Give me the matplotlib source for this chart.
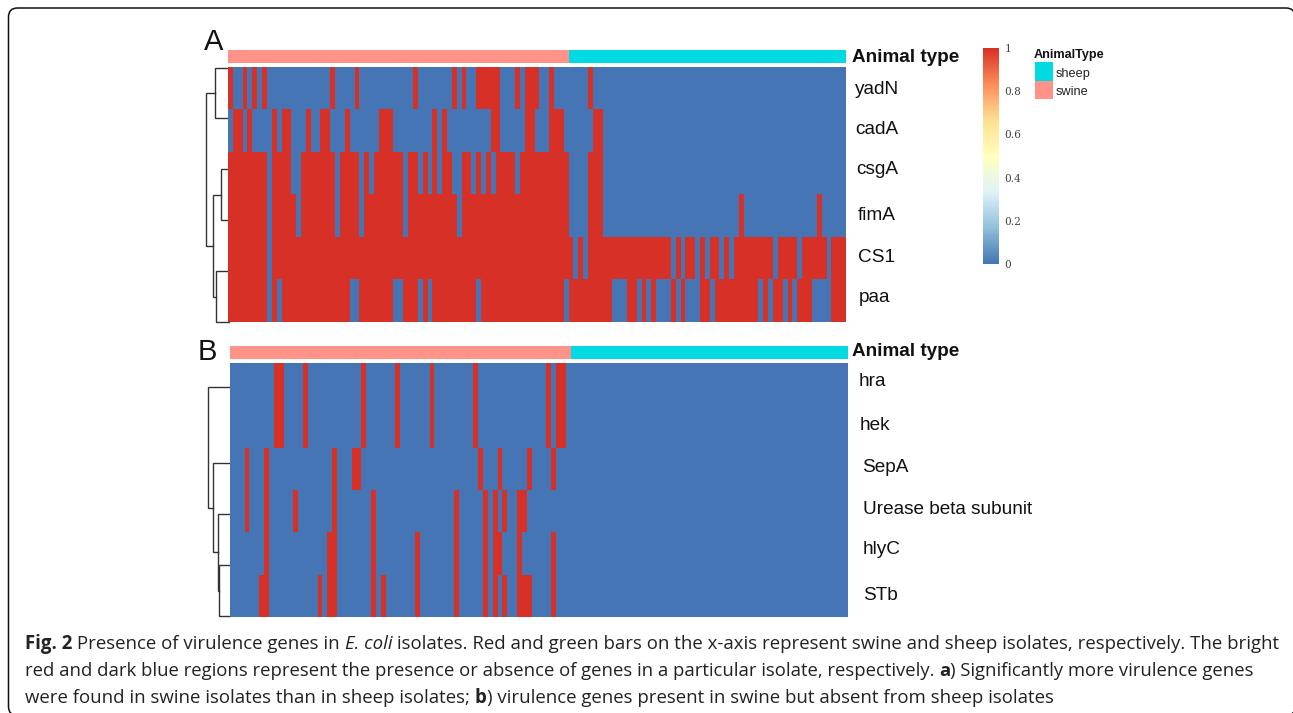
import numpy as np
import matplotlib
matplotlib.use("Agg")
import matplotlib.pyplot as plt
from matplotlib.cm import ScalarMappable
from matplotlib.colors import LinearSegmentedColormap, ListedColormap, Normalize
from matplotlib.patches import FancyBboxPatch, Rectangle

W, H = 1293, 713
N_SWINE = 70
N_SHEEP = 57

genes_a = ["yadN", "cadA", "csgA", "fimA", "CS1", "paa"]
genes_b = ["hra", "hek", "SepA", "Urease beta subunit", "hlyC", "STb"]

# isolates (column number) where the gene is present
yadN_present = [0, 3, 5, 7, 21, 26, 38, 46, 48, 51, 52, 53, 54, 55, 59, 61, 62, 63, 66, 74]
cadA_present = [1, 2, 4, 9, 11, 12, 16, 19, 20, 24, 31, 32, 33, 42, 44, 54, 55, 61, 62,
                66, 67, 68, 75, 76]
# these are mostly present, so list where they are absent
csgA_absent = [8, 13, 14, 22, 27, 29, 36, 39, 41, 43, 46, 47, 50, 52, 54, 59, 70, 71, 72, 73]
csgA_extra_absent_from = 77
fimA_absent = [8, 14, 22, 27, 36, 47, 70, 71, 72, 73]
fimA_extra_absent_from = 77
fimA_present_late = [105, 121]
CS1_absent = [8, 71, 73, 91, 93, 96, 98, 101, 103, 112, 117, 123]
paa_absent = [8, 10, 25, 26, 34, 35, 39, 41, 51, 69, 79, 80, 81, 84, 86, 88, 89, 90, 92,
              94, 95, 96, 99, 109, 111, 114, 116, 120, 121, 122, 123]

hra_present = [9, 10, 15, 27, 34, 41, 50, 65, 67, 68]
hek_present = [9, 10, 15, 27, 34, 41, 50, 65, 67, 68]
SepA_present = [3, 7, 21, 25, 26, 51, 55, 61, 66]
Urease_present = [3, 7, 13, 21, 29, 46, 52, 54, 56, 59, 60]
hlyC_present = [7, 20, 21, 29, 38, 46, 52, 54, 55, 59, 66]
STb_present = [6, 7, 18, 20, 21, 29, 31, 38, 46, 52, 54, 56, 59, 60, 61, 66]

heat_colors = ["#4575B4", "#91BFDB", "#E0F3F8", "#FFFFBF", "#FEE090", "#FC8D59", "#D73027"]
swine_color = "#FF9289"
sheep_color = "#00DAE0"
cbar_ticks = [0, 0.2, 0.4, 0.6, 0.8, 1]
cbar_labels = ["0", "0.2", "0.4", "0.6", "0.8", "1"]

# dendrogram links: y of top child, y of bottom child, x of the join, x of each child end
links_a = [(67.7, 118.3, 214.7, 228.3, 228.3),
           (169.3, 220.3, 221.3, 228.3, 228.3),
           (271.3, 322.0, 215.7, 229.3, 229.3),
           (194.7, 296.7, 212.7, 221.3, 215.7),
           (92.7, 245.7, 205.7, 214.7, 212.7)]
links_b = [(564.7, 615.7, 219.3, 230.3, 230.3),
           (514.0, 590.7, 217.7, 230.3, 219.3),
           (463.0, 552.3, 212.7, 230.3, 217.7),
           (387.0, 507.7, 207.7, 230.3, 212.7)]

plt.rcParams["font.family"] = ["Liberation Sans", "DejaVu Sans"]


def present(cols):
    row = np.zeros(N_SWINE + N_SHEEP)
    row[cols] = 1
    return row


def absent(cols, absent_from=None):
    row = np.ones(N_SWINE + N_SHEEP)
    row[cols] = 0
    if absent_from is not None:
        row[absent_from:] = 0
    return row


fimA_row = absent(fimA_absent, fimA_extra_absent_from)
fimA_row[fimA_present_late] = 1
matrix_a = np.array([present(yadN_present), present(cadA_present),
                     absent(csgA_absent, csgA_extra_absent_from), fimA_row,
                     absent(CS1_absent), absent(paa_absent)])
matrix_b = np.array([present(hra_present), present(hek_present), present(SepA_present),
                     present(Urease_present), present(hlyC_present), present(STb_present)])
animal_type = np.array([0] * N_SWINE + [1] * N_SHEEP).reshape(1, -1)

heat_cmap = LinearSegmentedColormap.from_list("heat", heat_colors, N=256)
anno_cmap = ListedColormap([swine_color, sheep_color])

fig = plt.figure(figsize=(W / 100, H / 100), dpi=100, facecolor="white")


def pixel_axes(x0, y0, x1, y1):
    # rectangle given in image pixels, y going down
    ax = fig.add_axes([x0 / W, 1 - y1 / H, (x1 - x0) / W, (y1 - y0) / H])
    ax.set_axis_off()
    return ax


# full figure overlay for frame, dendrograms and text, in image pixels
page = pixel_axes(0, 0, W, H)
page.set_xlim(0, W)
page.set_ylim(H, 0)
# frame runs off the right and bottom edges of the image
page.add_patch(FancyBboxPatch((8.5, 8), W - 6.5, H - 5.5, boxstyle="round,pad=0,rounding_size=9",
                              fc="white", ec="#111111", lw=1.1))


def heat_panel(x0, x1, bar_top, bar_bottom, top, bottom, matrix):
    bar = pixel_axes(x0, bar_top, x1, bar_bottom)
    bar.imshow(animal_type, cmap=anno_cmap, aspect="auto", interpolation="nearest", vmin=0, vmax=1)
    ax = pixel_axes(x0, top, x1, bottom)
    ax.imshow(matrix, cmap=heat_cmap, aspect="auto", interpolation="nearest", vmin=0, vmax=1)


heat_panel(228.3, 845.5, 50, 63, 66.7, 321.7, matrix_a)
heat_panel(230.3, 847.8, 346, 359, 363, 616.7, matrix_b)

for y_top, y_bot, x_join, x_top, x_bot in links_a + links_b:
    page.plot([x_top, x_join, x_join, x_bot], [y_top, y_top, y_bot, y_bot],
              color="#333333", lw=1.0, solid_joinstyle="miter")

page.text(204, 42, "A", fontsize=21, va="center", ha="left", color="#111111")
page.text(198, 352, "B", fontsize=21, va="center", ha="left", color="#111111")
page.text(852, 57, "Animal type", fontsize=13.6, fontweight="bold", va="center", color="#111111")
page.text(852, 352, "Animal type", fontsize=13.6, fontweight="bold", va="center", color="#111111")

label_pos_a = [(855, 89), (855, 130), (856, 170), (858, 216), (858, 258), (859, 298)]
label_pos_b = [(859, 381), (860, 425), (862, 468), (863, 510), (863, 550), (863, 596)]
for name, (x, y) in zip(genes_a + genes_b, label_pos_a + label_pos_b):
    page.text(x, y, name, fontsize=13.7, va="center", color="#111111")

# colour scale
cax = pixel_axes(982.7, 48, 998.7, 264)
cax.set_axis_on()
cb = fig.colorbar(ScalarMappable(Normalize(0, 1), heat_cmap), cax=cax)
cb.outline.set_visible(False)
cb.set_ticks(cbar_ticks, labels=cbar_labels)
cb.ax.tick_params(length=0, pad=4, labelsize=7.6, labelcolor="#444444")
for lab in cb.ax.get_yticklabels():
    lab.set_fontfamily(["DejaVu Serif"])

# annotation legend
page.text(1034, 55, "AnimalType", fontsize=9.1, fontweight="bold", va="center", color="#111111")
page.add_patch(Rectangle((1035, 62), 18, 18.5, fc=sheep_color, ec="none"))
page.add_patch(Rectangle((1035, 80.5), 18, 18.5, fc=swine_color, ec="none"))
page.text(1056, 74, "sheep", fontsize=9.2, va="center", color="#222222")
page.text(1056, 92, "swine", fontsize=9.2, va="center", color="#222222")

# caption, pieces placed one after the other so the bold and italic parts fit
caption = [
    (25, 644, 13.42, [("Fig. 2", "bold", "normal"), (" Presence of virulence genes in ", "normal", "normal"),
                      ("E. coli", "normal", "italic"),
                      (" isolates. Red and green bars on the x-axis represent swine and sheep isolates, respectively. The bright",
                       "normal", "normal")]),
    (25, 671, 13.32, [("red and dark blue regions represent the presence or absence of genes in a particular isolate, respectively. ",
                       "normal", "normal"),
                      ("a", "bold", "normal"), (") Significantly more virulence genes", "normal", "normal")]),
    (25, 698, 13.38, [("were found in swine isolates than in sheep isolates; ", "normal", "normal"),
                      ("b", "bold", "normal"),
                      (") virulence genes present in swine but absent from sheep isolates", "normal", "normal")]),
]
renderer = fig.canvas.get_renderer()
for x, y, size, parts in caption:
    for part, weight, style in parts:
        t = page.text(x, y, part, fontsize=size, fontweight=weight, fontstyle=style, va="center",
                      family=["Open Sans", "DejaVu Sans"], color="#222222")
        x += t.get_window_extent(renderer).width

fig.savefig("out.png", dpi=100)
